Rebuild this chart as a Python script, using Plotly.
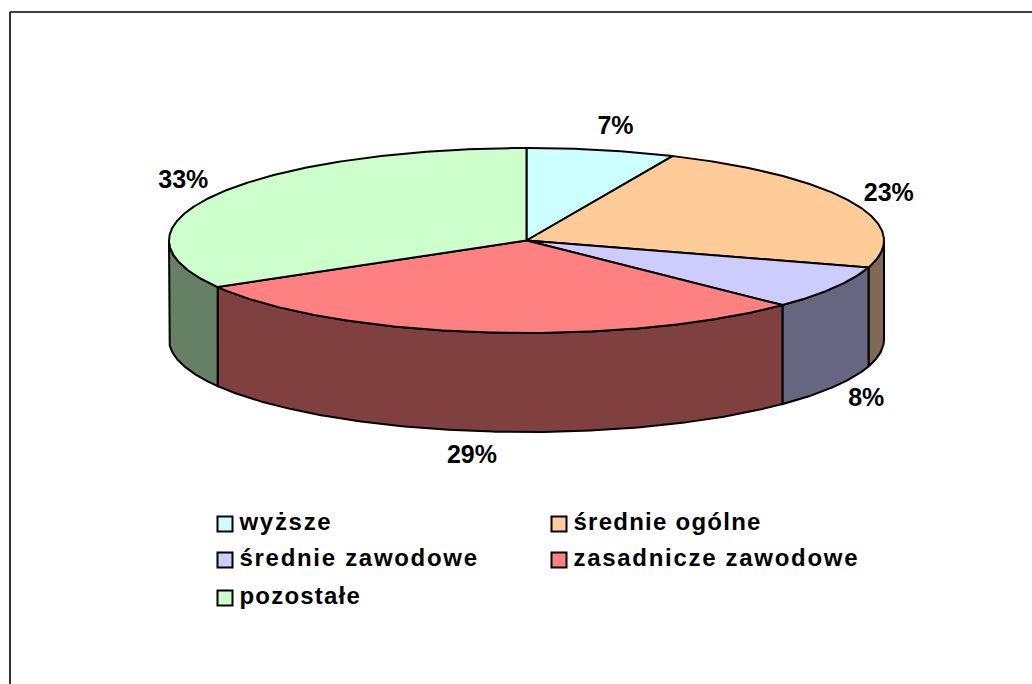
import json
import numpy as np
import plotly.graph_objects as go

categories = ['wyższe', 'średnie ogólne', 'średnie zawodowe', 'zasadnicze zawodowe', 'pozostałe']
shares = [6.7, 23.0, 7.6, 29.3, 33.4]
top_colors = ['#CCFFFF', '#FFCC99', '#CCCCFF', '#FF8080', '#CCFFCC']
side_colors = ['#668080', '#806A55', '#666680', '#804040', '#668066']

# pie geometry, in pixels of the 1032x684 page
cx, cy = 526.5, 240.5
rx, ry = 357.5, 92.5
depth = 99
label_rx, label_ry = 397, 117
label_nudge_x = [6, 1, -2, -6, 1]
label_nudge_y = [2, 3, 1, 1, 0]

# legend, two columns
legend_cols = [225, 559]
legend_rows = [524, 560, 598]
legend_text_gap = 14.5
legend_spacing = [1.7, 1.25, 1.7, 1.7, 1.2]


def ellipse(start, end, y0=cy, a=rx, b=ry):
    # start/end are in percent, clockwise from 12 o'clock
    t = np.radians(np.linspace(start, end, max(2, int((end - start) * 8))) * 3.6)
    return cx + a * np.sin(t), y0 - b * np.cos(t)


edges = np.concatenate([[0], np.cumsum(shares)])
fig = go.Figure()

# side walls: only the front half of the pie shows
for i in range(len(shares)):
    start, end = max(edges[i], 25), min(edges[i + 1], 75)
    if start >= end:
        continue
    x, y = ellipse(start, end)
    fig.add_trace(go.Scatter(
        x=np.concatenate([x, x[::-1], x[:1]]),
        y=np.concatenate([y, y[::-1] + depth, y[:1]]),
        mode='lines', fill='toself', fillcolor=side_colors[i],
        line=dict(color='black', width=2), hoverinfo='skip'))

# top slices
for i in range(len(shares)):
    x, y = ellipse(edges[i], edges[i + 1])
    fig.add_trace(go.Scatter(
        x=np.concatenate([[cx], x, [cx]]),
        y=np.concatenate([[cy], y, [cy]]),
        mode='lines', fill='toself', fillcolor=top_colors[i],
        line=dict(color='black', width=2), name=categories[i], hoverinfo='text', text=categories[i]))

# percent labels follow a bigger ellipse, dropped by the depth on the front side
mids = (edges[:-1] + edges[1:]) / 2
t = np.radians(mids * 3.6)
lx = cx + label_rx * np.sin(t) + np.array(label_nudge_x)
ly = cy - label_ry * np.cos(t) + np.where((mids > 25) & (mids < 75), depth, 0) + np.array(label_nudge_y)
fig.add_trace(go.Scatter(
    x=lx, y=ly, mode='text', text=[f'{v:.0f}%' for v in shares],
    textposition='middle center',
    textfont=dict(family='Liberation Sans', size=25, color='black', weight='bold'),
    hoverinfo='skip'))

legend_x = np.array([legend_cols[i % 2] for i in range(len(categories))])
legend_y = np.array([legend_rows[i // 2] for i in range(len(categories))])
fig.add_trace(go.Scatter(
    x=legend_x, y=legend_y, mode='markers',
    marker=dict(symbol='square', size=15, color=top_colors, line=dict(color='black', width=2)),
    hoverinfo='skip'))
fig.add_trace(go.Scatter(
    x=legend_x + legend_text_gap, y=legend_y, mode='text', text=categories, textposition='middle right',
    textfont=dict(family='Liberation Sans', size=24, color='black', weight='bold'),
    hoverinfo='skip'))

fig.update_layout(
    width=1032, height=684,
    margin=dict(l=0, r=0, t=0, b=0),
    paper_bgcolor='white', plot_bgcolor='white',
    showlegend=False,
    xaxis=dict(range=[0, 1032], visible=False),
    yaxis=dict(range=[684, 0], visible=False),
    shapes=[dict(type='line', x0=10, x1=10, y0=12, y1=684, line=dict(color='#333333', width=2)),
            dict(type='line', x0=10, x1=1032, y0=12, y1=12, line=dict(color='black', width=1.5))])

fix_page = """
document.body.style.margin = '0';
var spacing = %s;
document.querySelectorAll('.textpoint text').forEach(function (t) {
  if (spacing[t.textContent] !== undefined) { t.style.letterSpacing = spacing[t.textContent] + 'px'; }
});
""" % json.dumps(dict(zip(categories, legend_spacing)))
fig.write_html("out.html", post_script=fix_page, config=dict(displayModeBar=False))
